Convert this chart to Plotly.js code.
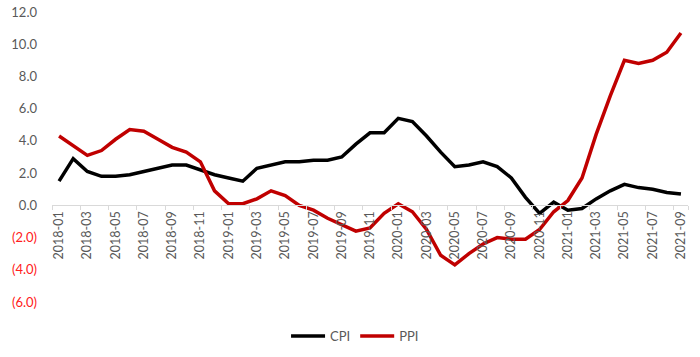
<!DOCTYPE html>
<html><head><meta charset="utf-8">
<script src="https://cdn.plot.ly/plotly-3.0.1.min.js"></script>
<style>body{margin:0}#c{width:700px;height:357px}</style>
</head><body><div id="c"></div>
<script>
const months = ["2018-01","2018-02","2018-03","2018-04","2018-05","2018-06","2018-07","2018-08","2018-09","2018-10","2018-11","2018-12",
"2019-01","2019-02","2019-03","2019-04","2019-05","2019-06","2019-07","2019-08","2019-09","2019-10","2019-11","2019-12",
"2020-01","2020-02","2020-03","2020-04","2020-05","2020-06","2020-07","2020-08","2020-09","2020-10","2020-11","2020-12",
"2021-01","2021-02","2021-03","2021-04","2021-05","2021-06","2021-07","2021-08","2021-09"];
const cpi = [1.5,2.9,2.1,1.8,1.8,1.9,2.1,2.3,2.5,2.5,2.2,1.9,
1.7,1.5,2.3,2.5,2.7,2.7,2.8,2.8,3.0,3.8,4.5,4.5,
5.4,5.2,4.3,3.3,2.4,2.5,2.7,2.4,1.7,0.5,-0.5,0.2,
-0.3,-0.2,0.4,0.9,1.3,1.1,1.0,0.8,0.7];
const ppi = [4.3,3.7,3.1,3.4,4.1,4.7,4.6,4.1,3.6,3.3,2.7,0.9,
0.1,0.1,0.4,0.9,0.6,0.0,-0.3,-0.8,-1.2,-1.6,-1.4,-0.5,
0.1,-0.4,-1.5,-3.1,-3.7,-3.0,-2.4,-2.0,-2.1,-2.1,-1.5,-0.4,
0.3,1.7,4.4,6.8,9.0,8.8,9.0,9.5,10.7];
const yTickVals = [-6,-4,-2,0,2,4,6,8,10,12];
const yTickText = ['<span style="color:#FF2020">(6.0)</span>','<span style="color:#FF2020">(4.0)</span>','<span style="color:#FF2020">(2.0)</span>',
'0.0','2.0','4.0','6.0','8.0','10.0','12.0'];
const xTickVals = months.filter((m,i)=>i%2===0);

const data = [
 {x: months, y: cpi, name: 'CPI', type:'scatter', mode:'lines', line:{color:'#000000', width:3.5}},
 {x: months, y: ppi, name: 'PPI', type:'scatter', mode:'lines', line:{color:'#C00000', width:3.5}}
];
const layout = {
 width:700, height:357,
 margin:{l:52, r:12, t:12, b:55, autoexpand:false},
 paper_bgcolor:'#fff', plot_bgcolor:'#fff',
 font:{family:'Lato, "Open Sans", sans-serif', color:'#595959'},
 showlegend:true,
 legend:{orientation:'h', x:0.368, xanchor:'left', y:-0.117, yanchor:'middle', font:{size:13, color:'#595959'}, traceorder:'normal', itemwidth:34},
 xaxis:{type:'category', tickvals:xTickVals, ticktext:xTickVals, tickangle:-90, tickfont:{size:12.5, color:'#595959'},
   anchor:'free', position:1/3, showline:true, linecolor:'#D9D9D9', linewidth:1, showgrid:false, zeroline:false, automargin:false,
   ticks:'outside', ticklen:4, tickcolor:'#D9D9D9', tickson:'boundaries', range:[-0.5,44.5]},
 yaxis:{range:[-6,12], tickvals:yTickVals, ticktext:yTickText, tickfont:{size:13, color:'#595959'}, automargin:false,
   showgrid:false, zeroline:false, showline:false, ticks:'', ticklabelstandoff:14}
};
Plotly.newPlot('c', data, layout, {displayModeBar:false, staticPlot:true});
</script></body></html>
